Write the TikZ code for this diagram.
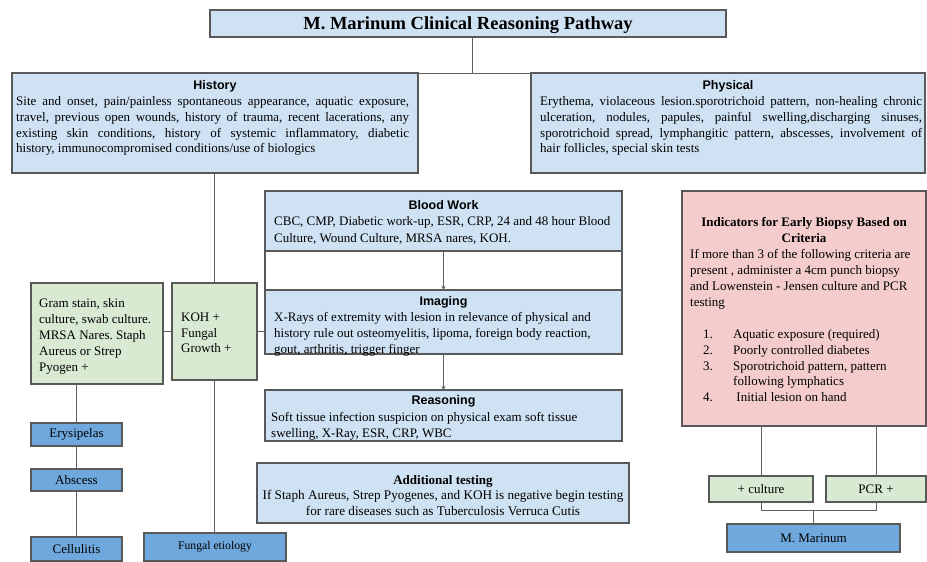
\documentclass[tikz,border=0pt]{standalone}
\usepackage{fontspec}
\setmainfont{Liberation Serif}
\setsansfont{Liberation Sans}
\usetikzlibrary{arrows.meta,calc}
\definecolor{lb}{HTML}{CFE2F3}
\definecolor{gr}{HTML}{D9EAD3}
\definecolor{pk}{HTML}{F4CCCC}
\definecolor{db}{HTML}{6FA8DC}
\definecolor{bordc}{HTML}{595959}
\definecolor{linec}{HTML}{5F5F5F}
\newcommand{\ns}{\spaceskip=0pt\xspaceskip=0pt\frenchspacing\relax}
\newcommand{\fs}{\spaceskip=0.25em\relax\xspaceskip=0.25em\relax\frenchspacing\relax}
\newcommand{\jl}[2]{\makebox[#1][s]{#2}}
\begin{document}
\begin{tikzpicture}[x=1pt,y=-1pt,
  bx/.style={draw=bordc, line width=1.1pt, rectangle, inner sep=0pt, outer sep=0pt, anchor=north west},
  sbx/.style={draw=bordc, line width=1.1pt, rectangle, inner sep=0pt, outer sep=0pt, anchor=north west, font=\fontsize{13}{15}\selectfont},
  body/.style={inner sep=0pt, anchor=base west, align=left, font=\fontsize{13}{15.8}\selectfont},
  cbody/.style={inner sep=0pt, anchor=base, align=center, font=\fontsize{13.2}{15.5}\selectfont},
  ttl/.style={inner sep=0pt, anchor=base, font=\sffamily\bfseries\fontsize{12.5}{15}\selectfont},
  sttl/.style={inner sep=0pt, anchor=base, align=center, font=\bfseries\fontsize{13}{16}\selectfont},
  conn/.style={draw=linec, line width=0.9pt},
  arr/.style={-{Stealth[length=4pt,width=4pt]}},
]
\useasboundingbox (0,0) rectangle (927,562);

% title
\node[bx, fill=lb, minimum width=516pt, minimum height=27pt] (title) at (210,10) {};
\node[inner sep=0pt, anchor=base, font=\bfseries\fontsize{18.5}{21}\selectfont] (titleT) at (468,30) {M. Marinum Clinical Reasoning Pathway};

% history
\node[bx, fill=lb, minimum width=406pt, minimum height=100pt] (hist) at (12,73) {};
\node[ttl] (histT) at (215,89.5) {History};
\node[body, text width=393pt] (histB) at (16,105.5) {\ns
\jl{393pt}{Site and onset, pain/painless spontaneous appearance, aquatic exposure,}\\
\jl{393pt}{travel, previous open wounds, history of trauma, recent lacerations, any}\\
\jl{393pt}{existing skin conditions, history of systemic inflammatory, diabetic}\\
history, immunocompromised conditions/use of biologics};

% physical
\node[bx, fill=lb, minimum width=394pt, minimum height=100pt] (phys) at (531,73) {};
\node[ttl] (physT) at (728,89.5) {Physical};
\node[body, text width=382pt] (physB) at (540,105.5) {\ns
\jl{382pt}{Erythema, violaceous lesion.sporotrichoid pattern, non-healing chronic}\\
\jl{382pt}{ulceration, nodules, papules, painful swelling,discharging sinuses,}\\
\jl{382pt}{sporotrichoid spread, lymphangitic pattern, abscesses, involvement of}\\
hair follicles, special skin tests};

% blood work / gap / imaging
\node[bx, fill=white, minimum width=357pt, minimum height=39pt] (gap) at (265,251) {};
\node[bx, fill=lb, minimum width=357pt, minimum height=60pt] (blood) at (265,191) {};
\node[ttl] (bloodT) at (443.5,209.5) {Blood Work};
\node[body, text width=348pt, font=\fontsize{13}{16.8}\selectfont] (bloodB) at (274,225.5) {\ns
CBC, CMP, Diabetic work-up, ESR, CRP, 24 and 48 hour Blood\\
Culture, Wound Culture, MRSA nares, KOH.};

\node[bx, fill=lb, minimum width=357pt, minimum height=64pt] (imag) at (265,290) {};
\node[ttl] (imagT) at (443.5,305.5) {Imaging};
\node[body, text width=348pt] (imagB) at (274,321.5) {\ns
X-Rays of extremity with lesion in relevance of physical and\\
history rule out osteomyelitis, lipoma, foreign body reaction,\\
gout, arthritis, trigger finger};

% reasoning
\node[bx, fill=lb, minimum width=357pt, minimum height=51pt] (reas) at (265,390) {};
\node[ttl] (reasT) at (443.5,404.5) {Reasoning};
\node[body, text width=348pt, font=\fontsize{13}{15.5}\selectfont] (reasB) at (271,421.5) {\ns
Soft tissue infection suspicion on physical exam soft tissue\\
swelling, X-Ray, ESR, CRP, WBC};

% additional testing
\node[bx, fill=lb, minimum width=372pt, minimum height=60pt] (addt) at (257,463) {};
\node[sttl, text width=360pt] (addtT) at (443,484.5) {\fs Additional testing};
\node[cbody, text width=368pt] (addtB) at (443,499.5) {\fs
If Staph Aureus, Strep Pyogenes, and KOH is negative begin testing\\
for rare diseases such as Tuberculosis Verruca Cutis};

% indicators
\node[bx, fill=pk, minimum width=244pt, minimum height=235pt] (pink) at (682,191) {};
\node[sttl, text width=236pt] (pinkT) at (804,226.5) {\fs Indicators for Early Biopsy Based on\\Criteria};
\node[body, text width=232pt, font=\fontsize{13}{16}\selectfont] (pinkB) at (690,258.5) {\ns
If more than 3 of the following criteria are\\
present , administer a 4cm punch biopsy\\
and Lowenstein - Jensen culture and PCR\\
testing};
\node[body, text width=220pt, font=\fontsize{13}{15.8}\selectfont] (pinkL) at (703,338.5) {\ns
\makebox[30pt][l]{1.}Aquatic exposure (required)\\
\makebox[30pt][l]{2.}Poorly controlled diabetes\\
\makebox[30pt][l]{3.}Sporotrichoid pattern, pattern\\
\makebox[30pt][l]{}following lymphatics\\
\makebox[30pt][l]{4.} Initial lesion on hand};

% green boxes
\node[bx, fill=gr, minimum width=132pt, minimum height=101pt] (gram) at (31,283) {};
\node[body, text width=124pt, font=\fontsize{13}{16}\selectfont] (gramB) at (39,307) {\ns
Gram stain, skin\\
culture, swab culture.\\
MRSA Nares. Staph\\
Aureus or Strep\\
Pyogen +};
\node[bx, fill=gr, minimum width=85pt, minimum height=97pt] (koh) at (172,283) {};
\node[body, text width=74pt, font=\fontsize{13}{15.6}\selectfont] (kohB) at (181,321.5) {\ns
KOH +\\
Fungal\\
Growth +};

% dark blue boxes
\node[sbx, fill=db, minimum width=91pt, minimum height=23pt] (erys) at (31,423) {Erysipelas};
\node[sbx, fill=db, minimum width=91pt, minimum height=22pt] (absc) at (31,469) {Abscess};
\node[sbx, fill=db, minimum width=91pt, minimum height=24pt] (cell) at (31,537) {Cellulitis};
\node[sbx, fill=db, minimum width=142pt, minimum height=28pt, font=\fontsize{11.7}{13}\selectfont] (fung) at (144,533) {Fungal etiology};

% culture / pcr / marinum
\node[sbx, fill=gr, minimum width=104pt, minimum height=26pt] (cult) at (709,476) {+ culture};
\node[sbx, fill=gr, minimum width=100pt, minimum height=26pt] (pcr) at (826,476) {PCR +};
\node[sbx, fill=db, minimum width=173pt, minimum height=28pt] (mmar) at (727,524) {M. Marinum};

% connectors
\coordinate (tj) at (472,73);
\draw[conn] (title.south -| tj) -- (tj);
\draw[conn] (hist.north east) -- (phys.north west);
\draw[conn] (hist.south -| koh.north) -- (koh.north);
\draw[conn] (gram.east |- koh.west) -- (koh.west);
\draw[conn] (koh.east) -- (koh.east -| imag.west);
\draw[conn] (gram.south -| erys.north) -- (erys.north);
\draw[conn] (erys.south) -- (absc.north);
\draw[conn] (absc.south) -- (cell.north);
\draw[conn] (koh.south) -- (koh.south |- fung.north);
\draw[conn, arr] (blood.south) -- (imag.north);
\draw[conn, arr] (imag.south) -- (reas.north);
\draw[conn] (pink.south -| cult.north) -- (cult.north);
\draw[conn] (pink.south -| pcr.north) -- (pcr.north);
\coordinate (bj) at ($(cult.south)+(0,8)$);
\draw[conn] (cult.south) -- (bj) -| (pcr.south);
\draw[conn] (mmar.north) -- (mmar.north |- bj);
\end{tikzpicture}
\end{document}
